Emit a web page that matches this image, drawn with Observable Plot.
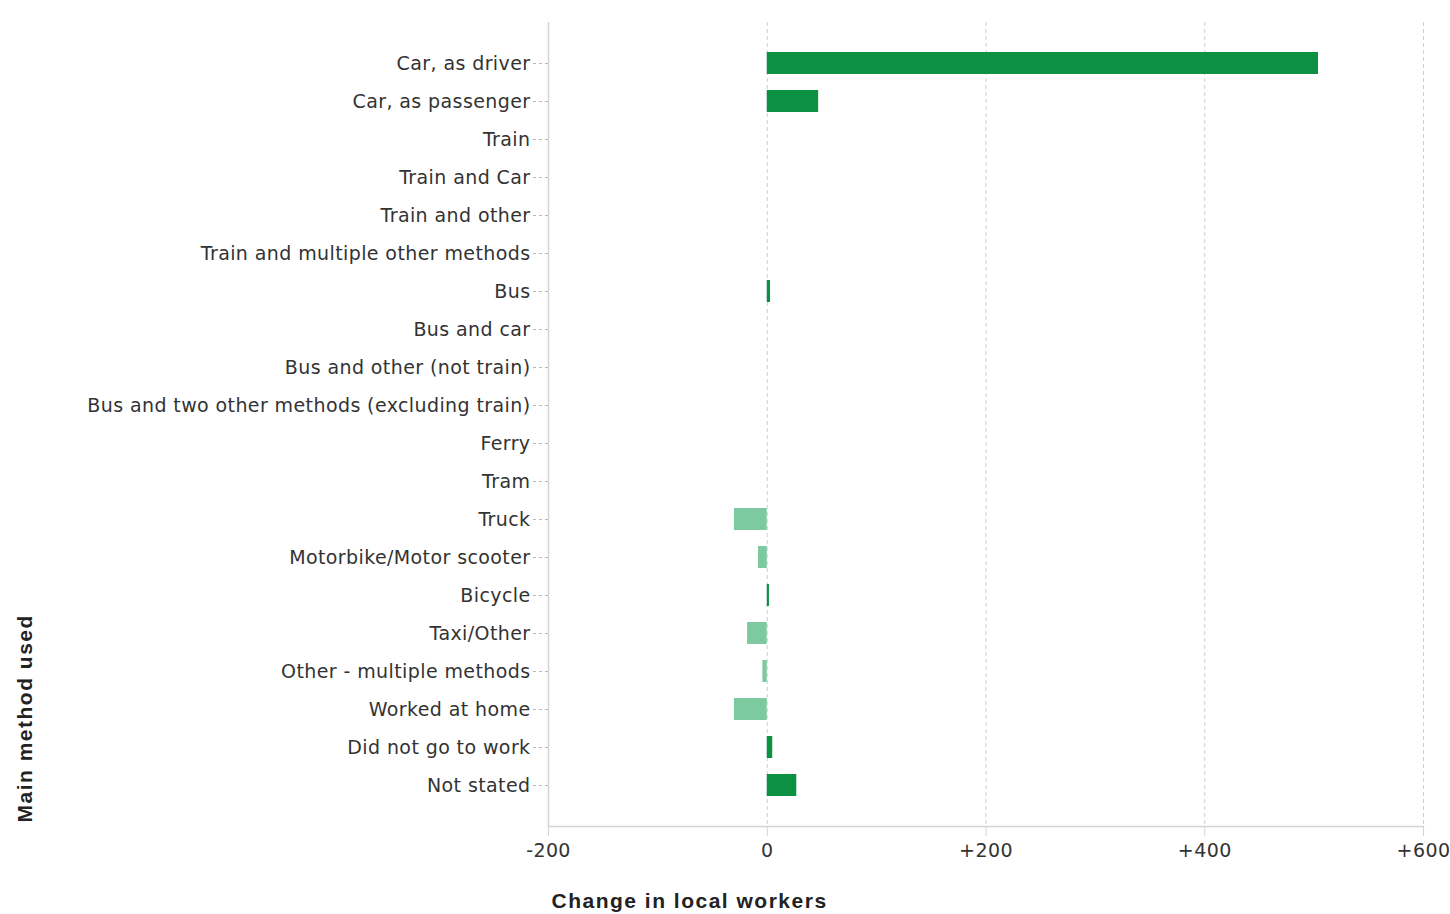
<!DOCTYPE html>
<html>
<head>
<meta charset="utf-8">
<script src="https://cdn.jsdelivr.net/npm/d3@7"></script>
<script src="https://cdn.jsdelivr.net/npm/@observablehq/plot@0.6"></script>
<style>
  html, body { margin: 0; padding: 0; background: #fff; }
  #chart { width: 1450px; height: 914px; }
</style>
</head>
<body>
<div id="chart"></div>
<script>
const methods = [
  "Car, as driver",
  "Car, as passenger",
  "Train",
  "Train and Car",
  "Train and other",
  "Train and multiple other methods",
  "Bus",
  "Bus and car",
  "Bus and other (not train)",
  "Bus and two other methods (excluding train)",
  "Ferry",
  "Tram",
  "Truck",
  "Motorbike/Motor scooter",
  "Bicycle",
  "Taxi/Other",
  "Other - multiple methods",
  "Worked at home",
  "Did not go to work",
  "Not stated"
];
const changes = [504, 47, 0, 0, 0, 0, 3, 0, 0, 0, 0, 0, -30, -8, 2, -18, -4, -30, 5, 27];
const xTicks = [-200, 0, 200, 400, 600];
const xTitle = "Change in local workers";
const yTitle = "Main method used";

const data = methods.map((m, i) => ({method: m, change: changes[i]}));
const fmt = d => d > 0 ? "+" + d : d === 0 ? "0" : "-" + Math.abs(d);

const chart = Plot.plot({
  width: 1450,
  height: 914,
  marginLeft: 548,
  marginRight: 27,
  marginTop: 22,
  marginBottom: 88,
  style: {fontFamily: "'DejaVu Sans', Verdana, sans-serif", fontSize: "19px", color: "#333", background: "#fff", letterSpacing: "0.4px"},
  x: {domain: [-200, 600], ticks: xTicks, tickFormat: fmt, label: null},
  y: {domain: methods, paddingInner: 0.42, paddingOuter: 0.74, label: null},
  marks: [
    Plot.gridX([0, 200, 400, 600], {stroke: "#cfcfcf", strokeOpacity: 1, strokeDasharray: "4,3"}),
    Plot.ruleX([-200], {stroke: "#d4d4d4", strokeWidth: 1.5}),
    Plot.frame({anchor: "bottom", stroke: "#d4d4d4", strokeWidth: 1.5}),
    Plot.barX(data, {
      x: "change",
      y: "method",
      fill: d => d.change >= 0 ? "#0b9141" : "#7dc9a0"
    }),
    Plot.axisY({tickSize: 15, tickPadding: 3, stroke: "#b8b8b8", strokeDasharray: "3,3", label: null, fontSize: 19}),
    Plot.axisX(xTicks, {tickSize: 10, tickPadding: 7, stroke: "#d4d4d4", tickFormat: fmt, label: null, fontSize: 19}),
    Plot.text([xTitle], {frameAnchor: "bottom-left", dx: 3, dy: 75, textAnchor: "start", lineAnchor: "middle", fontWeight: "bold", fontSize: 21, fill: "#222", fontFamily: "'Liberation Sans', Arial, sans-serif", style: "letter-spacing:1.5px"}),
    Plot.text([yTitle], {frameAnchor: "bottom-left", dx: -523, dy: -4, rotate: -90, textAnchor: "start", lineAnchor: "middle", fontWeight: "bold", fontSize: 21, fill: "#222", fontFamily: "'Liberation Sans', Arial, sans-serif"})
  ]
});
chart.querySelectorAll("text").forEach(t => {
  if (t.textContent === xTitle || t.textContent === yTitle) t.style.letterSpacing = "1.5px";
});
chart.querySelectorAll("g[aria-label='text'] text").forEach(t => { t.style.letterSpacing = "1.5px"; });
document.getElementById("chart").appendChild(chart);
</script>
</body>
</html>
